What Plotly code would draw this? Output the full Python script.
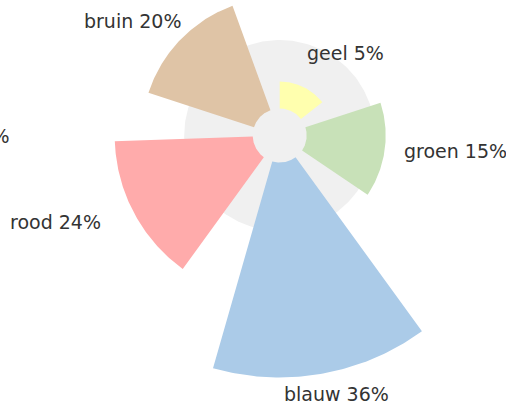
import numpy as np
import plotly.graph_objects as go

# ---- data ----
categories = ["geel", "groen", "blauw", "rood", "bruin"]
percentages = [5, 15, 36, 24, 20]
bar_radius = [54, 106, 242, 165, 138]      # outer radius of each wedge (chart units)
background_radius = 95.5                   # grey background disk
extra_label = "grijs 0%"                   # label mostly cut off at the left edge

# ---- styling / layout constants ----
colors = ["#ffffae", "#c8e1b8", "#abcbe8", "#ffabab", "#dfc4a6"]
grey = "#f0f0f0"
hole = 27
start_offset = 26          # degrees (clockwise from north) of first wedge centre
wedge_width = 52           # degrees
W, H = 506, 409
cx, cy = 279.7, 135.5      # centre in pixels

n = len(categories)
slot = 360.0 / n


def wedge(r_in, r_out, a0, a1, steps=80):
    t = np.radians(np.linspace(a0, a1, steps))
    xo, yo = r_out * np.sin(t), r_out * np.cos(t)
    xi, yi = r_in * np.sin(t[::-1]), r_in * np.cos(t[::-1])
    return np.concatenate([xo, xi, xo[:1]]), np.concatenate([yo, yi, yo[:1]])


fig = go.Figure()

# background disk
t = np.radians(np.linspace(0, 360, 241))
fig.add_trace(go.Scatter(x=background_radius * np.sin(t), y=background_radius * np.cos(t),
                         mode="lines", fill="toself", fillcolor=grey,
                         line=dict(width=0, color=grey), hoverinfo="skip", showlegend=False))

for i, (cat, r, col) in enumerate(zip(categories, bar_radius, colors)):
    c = start_offset + i * slot
    x, y = wedge(hole, r, c - wedge_width / 2, c + wedge_width / 2)
    fig.add_trace(go.Scatter(x=x, y=y, mode="lines", fill="toself", fillcolor=col,
                             line=dict(width=0, color=col), name=cat,
                             hoverinfo="skip", showlegend=False))

# label placement (pixel positions of text anchors)
label_pos = {
    "geel": (305.0, 52.5, "left"),
    "groen": (401.5, 150.5, "left"),
    "blauw": (336.7, 394.0, "center"),
    "rood": (103.0, 221.5, "right"),
    "bruin": (184.0, 21.0, "right"),
}
font = dict(family="DejaVu Sans", size=19, color="#333333")
for cat, p in zip(categories, percentages):
    px, py, anc = label_pos[cat]
    fig.add_annotation(x=px - cx, y=cy - py, xref="x", yref="y", text=f"{cat} {p}%",
                       showarrow=False, xanchor=anc, yanchor="middle", font=font)
fig.add_annotation(x=12 - cx, y=cy - 136, xref="x", yref="y", text=extra_label,
                   showarrow=False, xanchor="right", yanchor="middle", font=font)

fig.update_layout(
    width=W, height=H, margin=dict(l=0, r=0, t=0, b=0),
    paper_bgcolor="white", plot_bgcolor="white",
    xaxis=dict(range=[-cx, W - cx], visible=False, fixedrange=True),
    yaxis=dict(range=[cy - H, cy], visible=False, fixedrange=True),
    showlegend=False,
)
fig.write_html("out.html", config={"displayModeBar": False},
               post_script="document.body.style.margin='0';document.body.style.overflow='hidden';")
